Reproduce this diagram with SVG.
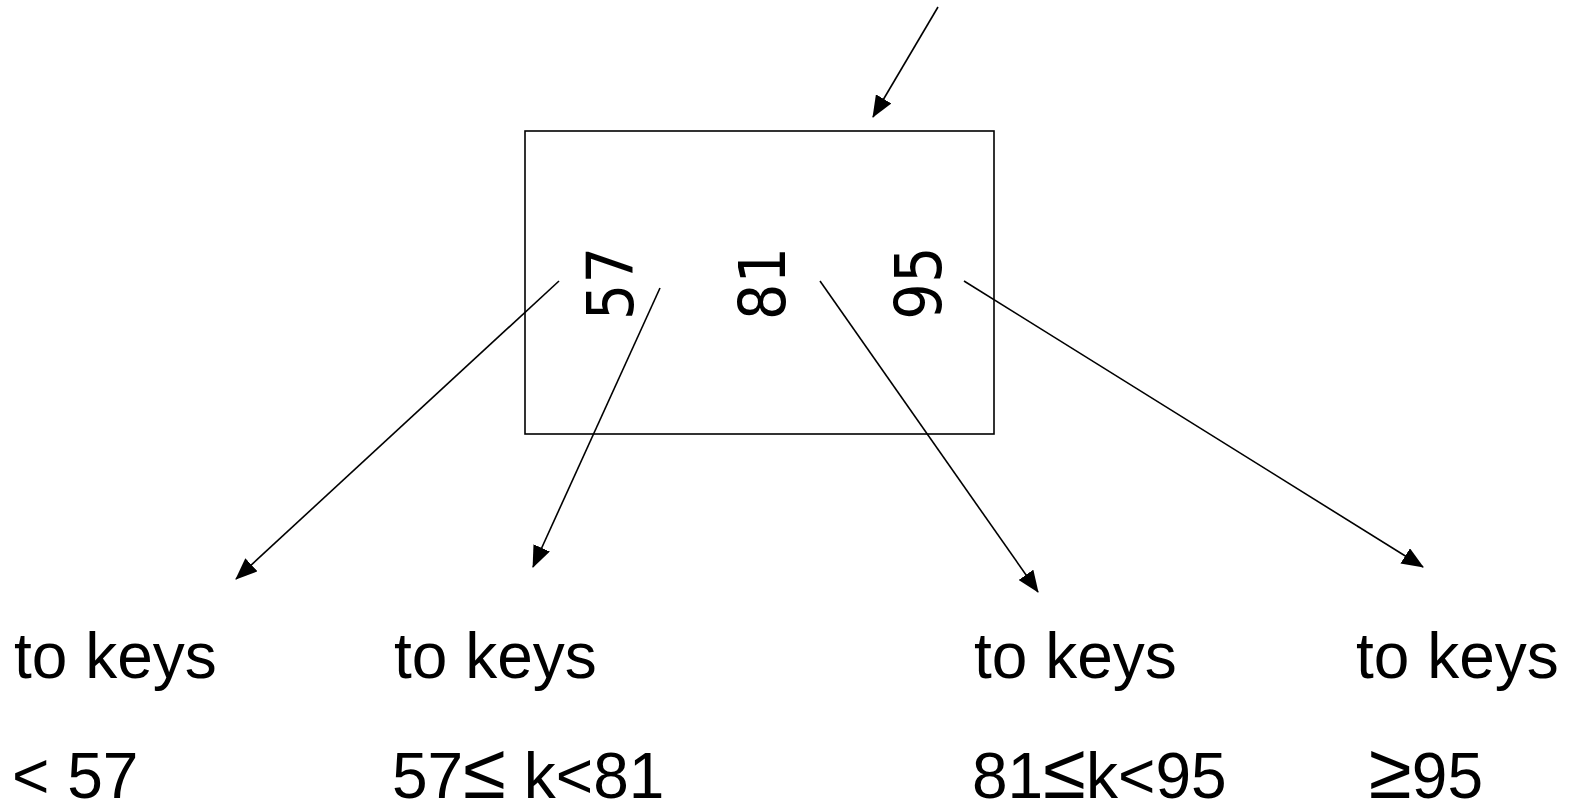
<svg xmlns="http://www.w3.org/2000/svg" width="1571" height="801" viewBox="0 0 1571 801">
<style>
.lbl{font-family:"Liberation Sans",Arial,sans-serif;font-size:64px;fill:#000}
.rel{font-size:78px}
.key{font-family:"DejaVu Sans Condensed","DejaVu Sans",sans-serif;font-size:64px;fill:#000}
.edge{stroke:#000;stroke-width:1.6;fill:none}
</style>
<defs>
<marker id="ah" markerUnits="userSpaceOnUse" markerWidth="22" markerHeight="18" viewBox="0 0 22 18" refX="21" refY="9" orient="auto">
<path d="M0,0 L22,9 L0,18 Z" fill="#000"/>
</marker>
</defs>
<rect width="1571" height="801" fill="#fff"/>
<g id="node">
<rect x="525" y="131" width="469" height="303" fill="none" stroke="#000" stroke-width="1.6"/>
<text class="key" transform="translate(633,283.5) rotate(-90)" text-anchor="middle">57</text>
<text class="key" transform="translate(785,283.5) rotate(-90)" text-anchor="middle">81</text>
<text class="key" transform="translate(941,283) rotate(-90)" text-anchor="middle">95</text>
</g>
<g id="connectors">
<line class="edge" x1="938" y1="7" x2="873" y2="117" marker-end="url(#ah)"/>
<line class="edge" x1="559" y1="281" x2="236" y2="579" marker-end="url(#ah)"/>
<line class="edge" x1="660" y1="288" x2="533" y2="567" marker-end="url(#ah)"/>
<line class="edge" x1="820" y1="281" x2="1038" y2="592" marker-end="url(#ah)"/>
<line class="edge" x1="964" y1="281" x2="1423" y2="567" marker-end="url(#ah)"/>
</g>
<g id="label1">
<text class="lbl" x="14" y="678">to keys</text>
<text class="lbl" x="12" y="798">&lt; 57</text>
</g>
<g id="label2">
<text class="lbl" x="394" y="678">to keys</text>
<text class="lbl" x="392" y="798">57<tspan class="rel">≤</tspan> k&lt;81</text>
</g>
<g id="label3">
<text class="lbl" x="974" y="678">to keys</text>
<text class="lbl" x="972" y="798">81<tspan class="rel">≤</tspan>k&lt;95</text>
</g>
<g id="label4">
<text class="lbl" x="1356" y="678">to keys</text>
<text class="lbl" x="1369" y="798"><tspan class="rel">≥</tspan>95</text>
</g>
</svg>
